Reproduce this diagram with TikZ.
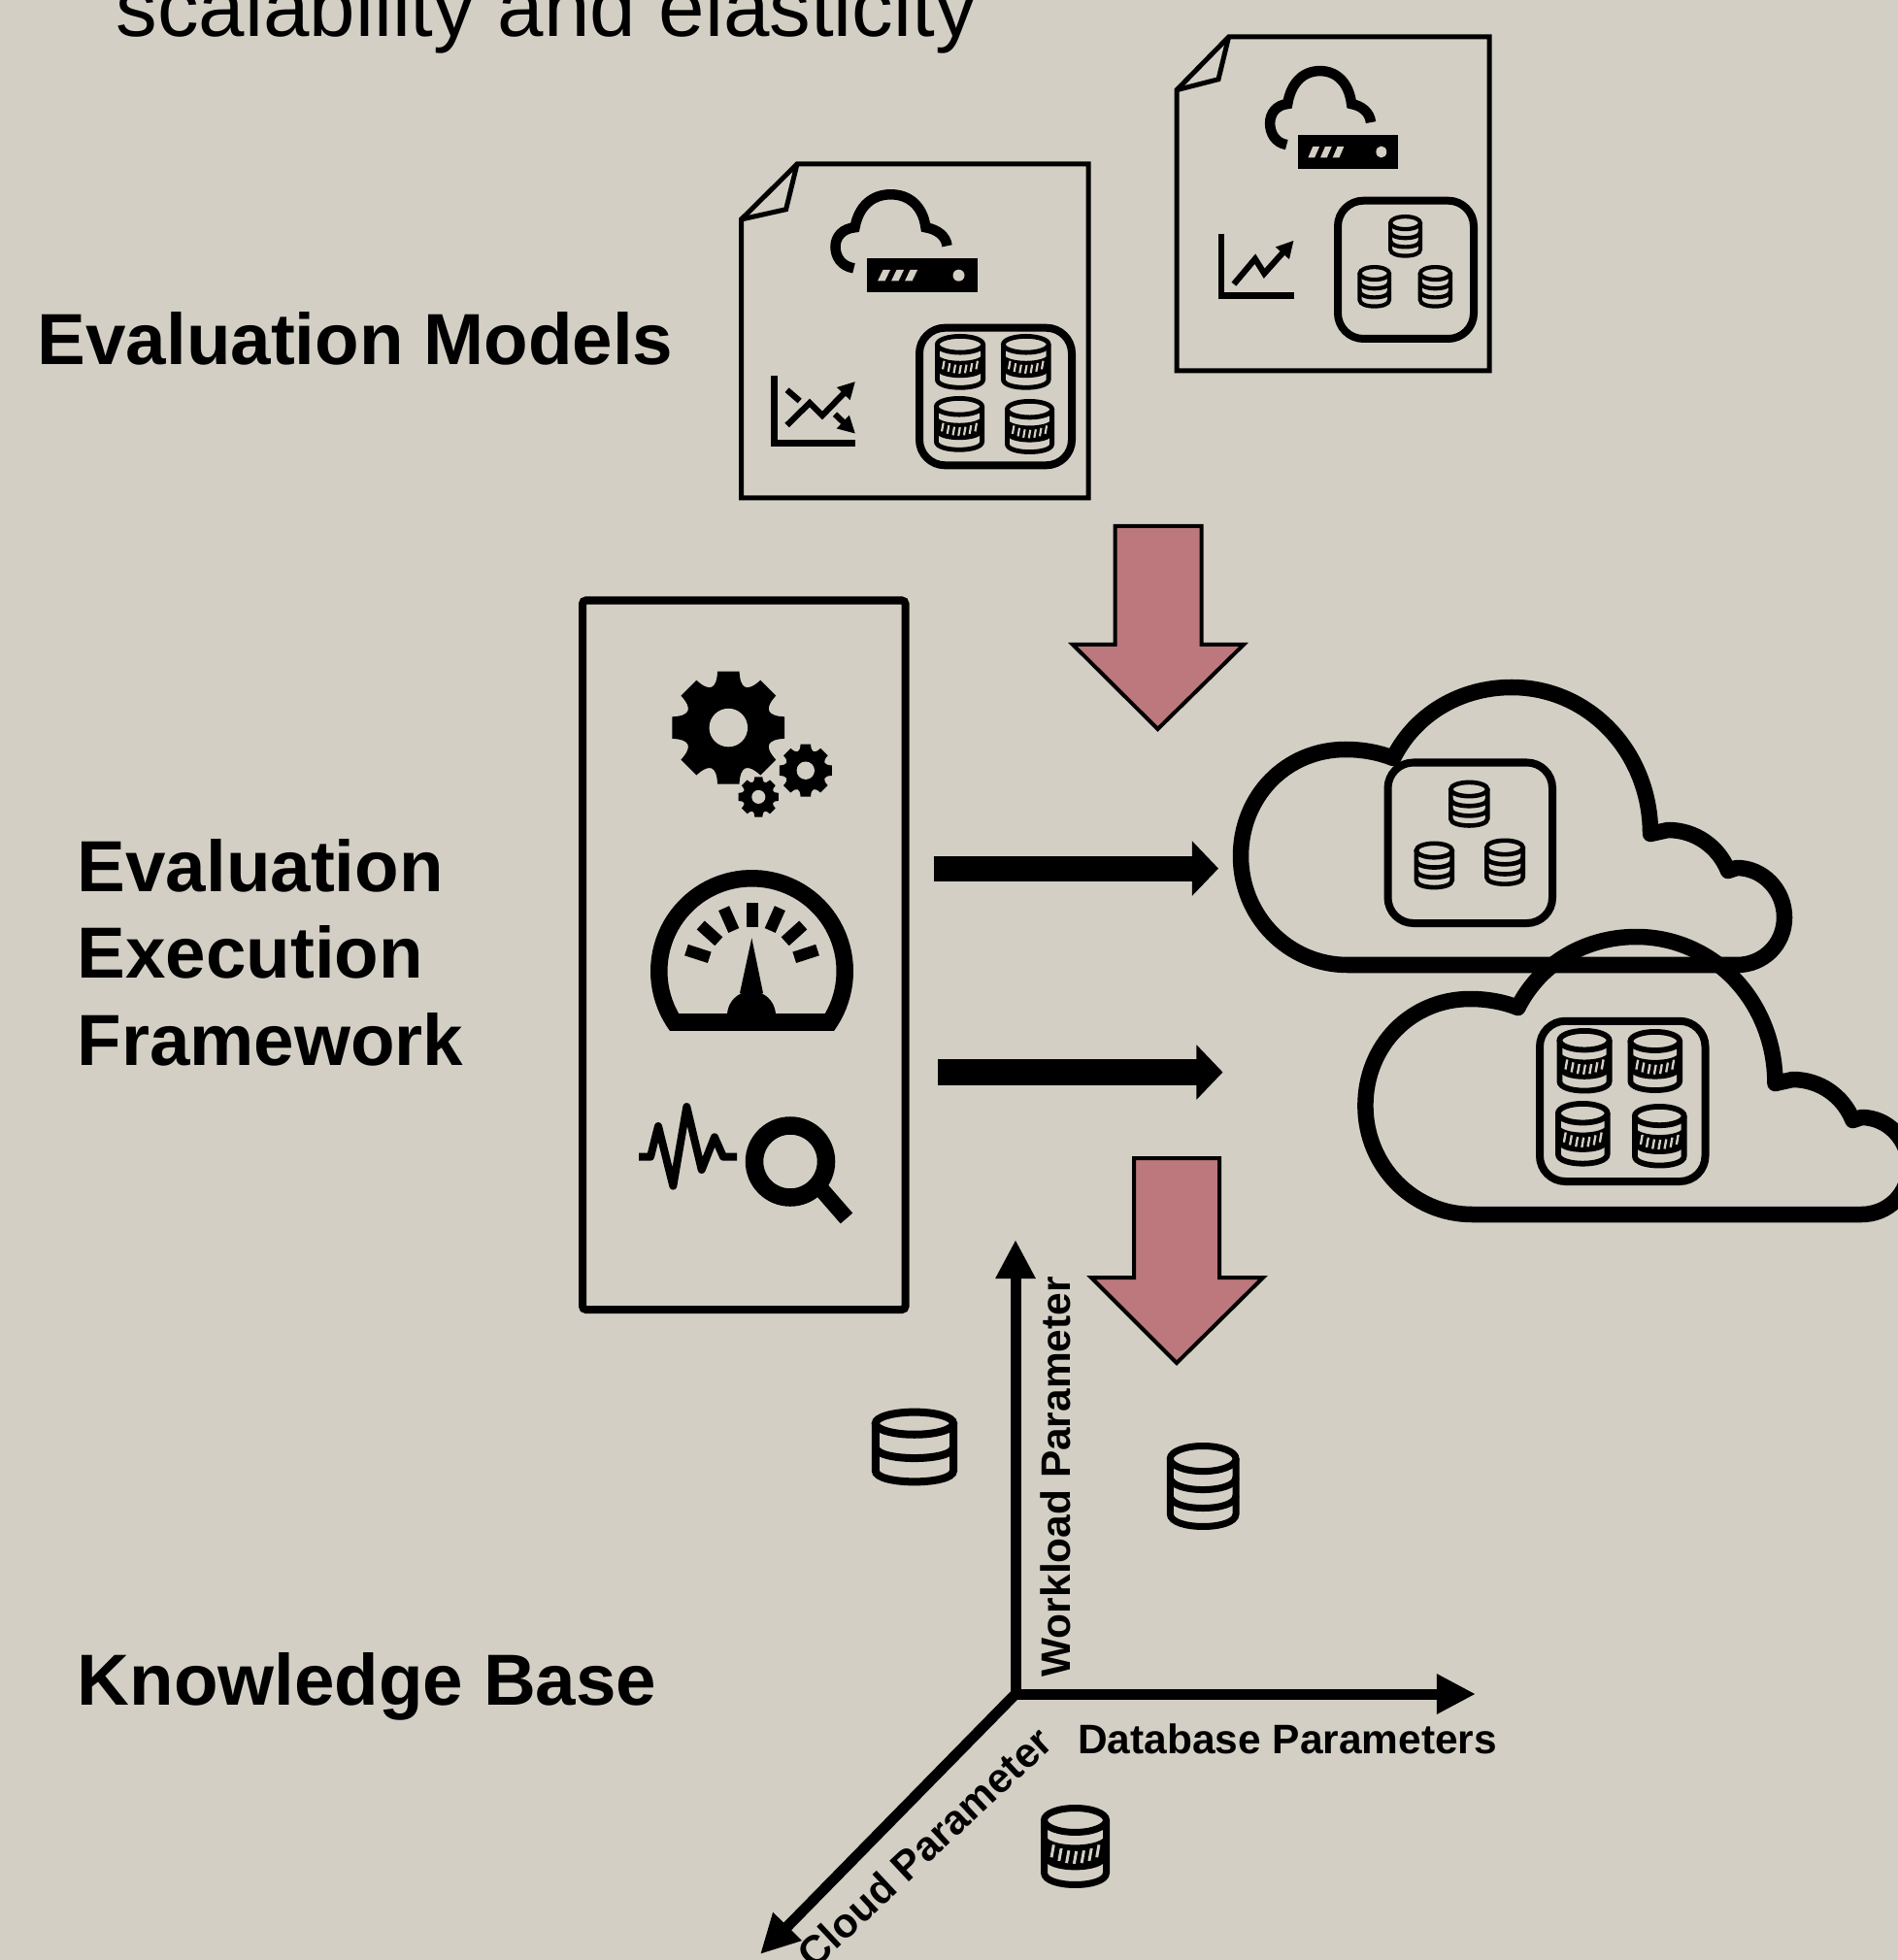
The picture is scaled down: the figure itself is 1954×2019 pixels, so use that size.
\documentclass[tikz,border=0pt]{standalone}
\usepackage{fontspec}
\setmainfont{Liberation Sans}
\usetikzlibrary{arrows.meta}
\definecolor{bgc}{RGB}{211,207,196}
\definecolor{redc}{RGB}{188,120,124}
\newcommand{\pxu}{0.28453pt}
\tikzset{
  docline/.style={draw=black,line width=5*\pxu,line join=miter},
  bigbox/.style={draw=black,line width=8*\pxu,rounded corners=7.5pt},
  cloudline/.style={draw=black,line width=16.5*\pxu,line join=round},
  redarrow/.style={draw=black,fill=redc,line width=4*\pxu,line join=miter},
  heading/.style={inner sep=0pt,font=\fontsize{21.2}{25.4}\selectfont\bfseries},
  axlabel/.style={inner sep=0pt,font=\fontsize{12.07}{14}\selectfont\bfseries},
  titletext/.style={inner sep=0pt,font=\fontsize{24.25}{28}\selectfont},
  axisline/.style={draw=black,line width=11*\pxu,line cap=round,-{Triangle[length=11.4pt,width=11pt]}},
  flowline/.style={draw=black,line width=26*\pxu,-{Triangle[length=7.7pt,width=15.6pt]}},
  chartline/.style={draw=black,line width=6.2*\pxu,line join=miter},
  charttip/.style={-{Triangle[length=5pt,width=5pt]}},
}
% x0,y0,x1,y1,dividers,lw : outer box of a plain cylinder
\newcommand{\dbcyl}[6]{%
  \pgfmathsetmacro\dbcx{(#1+#3)/2}%
  \pgfmathsetmacro\dbh{#4-#2}%
  \pgfmathsetmacro\dbrx{(#3-#1-#6)/2}%
  \pgfmathsetmacro\dbry{0.145*\dbh}%
  \pgfmathsetmacro\dbey{\dbry+#6/2}%
  \pgfmathsetmacro\dbby{\dbh-#6/2-\dbry}%
  \pgfmathsetmacro\dbsag{\dbry*1.33}%
  \begin{scope}[shift={(\dbcx,#2)},line width=#6*\pxu]
    \draw (0,\dbey) ellipse [x radius=\dbrx,y radius=\dbry];
    \draw (-\dbrx,\dbey) -- (-\dbrx,\dbby) .. controls (-\dbrx,\dbby+\dbsag) and (\dbrx,\dbby+\dbsag) .. (\dbrx,\dbby) -- (\dbrx,\dbey);
    \foreach \i in {1,...,#5}{
      \pgfmathsetmacro\dbyi{\dbey+\i*(\dbby-\dbey)/(#5+1)}
      \draw (-\dbrx,\dbyi) .. controls (-\dbrx,\dbyi+\dbsag) and (\dbrx,\dbyi+\dbsag) .. (\dbrx,\dbyi);
    }
  \end{scope}%
}
% x0,y0,x1,y1,lw : cylinder with hatched band
\newcommand{\dbhatch}[5]{%
  \pgfmathsetmacro\dbcx{(#1+#3)/2}%
  \pgfmathsetmacro\dbh{#4-#2}%
  \pgfmathsetmacro\dbrx{(#3-#1-#5)/2}%
  \pgfmathsetmacro\dbry{0.145*\dbh}%
  \pgfmathsetmacro\dbey{\dbry+#5/2}%
  \pgfmathsetmacro\dbby{\dbh-#5/2-\dbry}%
  \pgfmathsetmacro\dbsag{\dbry*1.33}%
  \pgfmathsetmacro\dbya{\dbey+0.24*(\dbby-\dbey)}%
  \pgfmathsetmacro\dbyb{\dbey+0.72*(\dbby-\dbey)}%
  \pgfmathsetmacro\dbym{(\dbya+\dbyb)/2}%
  \pgfmathsetmacro\dbpitch{2*\dbrx*0.85/7}%
  \pgfmathsetmacro\dbslit{0.38*\dbpitch}%
  \pgfmathsetmacro\dbhs{0.075*\dbh}%
  \begin{scope}[shift={(\dbcx,#2)},line width=#5*\pxu]
    \draw (0,\dbey) ellipse [x radius=\dbrx,y radius=\dbry];
    \draw (-\dbrx,\dbey) -- (-\dbrx,\dbby) .. controls (-\dbrx,\dbby+\dbsag) and (\dbrx,\dbby+\dbsag) .. (\dbrx,\dbby) -- (\dbrx,\dbey);
    \fill (-\dbrx,\dbya) .. controls (-\dbrx,\dbya+\dbsag) and (\dbrx,\dbya+\dbsag) .. (\dbrx,\dbya) -- (\dbrx,\dbyb) .. controls (\dbrx,\dbyb+\dbsag) and (-\dbrx,\dbyb+\dbsag) .. (-\dbrx,\dbyb) -- cycle;
    \foreach \i in {-3,...,3}{
      \pgfmathsetmacro\dbxi{\i*\dbpitch}
      \pgfmathsetmacro\dbyc{\dbym+\dbry*(1-(\dbxi/\dbrx)^2)}
      \draw[bgc,line width=\dbslit*\pxu] (\dbxi+0.18*\dbhs,\dbyc-\dbhs) -- (\dbxi-0.18*\dbhs,\dbyc+\dbhs);
    }
  \end{scope}%
}
% x-shift,y-shift,x-scale : cloud above a server
\newcommand{\cloudserver}[3]{%
  \begin{scope}[shift={(#1,#2)},xscale=#3]
    \draw[line width=10.5*\pxu] (-13,10.3) .. controls (-26,8.3) and (-32,-1.7) .. (-32,-11.7) .. controls (-32,-22.7) and (-24,-30.7) .. (-12,-31.7) .. controls (-8,-53.7) and (6,-65.7) .. (25,-65.7) .. controls (44,-65.7) and (58,-53.7) .. (61,-31.7) .. controls (73,-29.7) and (82,-22.7) .. (83,-12.7);
    \fill (0,0) rectangle (114,35.5);
    \fill[bgc] (17,12) -- (24.5,12) -- (19,23.5) -- (11.5,23.5) -- cycle;
    \fill[bgc] (31,12) -- (38.5,12) -- (33,23.5) -- (25.5,23.5) -- cycle;
    \fill[bgc] (45,12) -- (52.5,12) -- (47,23.5) -- (39.5,23.5) -- cycle;
    \fill[bgc] (95,17.7) ellipse [x radius=6,y radius=6];
  \end{scope}%
}
% cx,cy,outer radius
\newcommand{\gearicon}[3]{%
  \pgfmathsetmacro\gri{#3*0.70}%
  \begin{scope}[shift={(#1,#2)}]
    \fill (-11:#3) \foreach \a in {0,45,...,315}{ -- (\a-11:#3) -- (\a+11:#3) .. controls (\a+17:\gri) and (\a+28:\gri) .. (\a+34:#3) } -- cycle;
    \fill[bgc] (0,0) circle [radius=#3*0.335];
  \end{scope}%
}
\begin{document}
\begin{tikzpicture}[x=0.01cm,y=-0.01cm]
\useasboundingbox (0,0) rectangle (1954,2019);
\fill[bgc] (-6,-6) rectangle (1960,2025);
\clip (-3,-3) rectangle (1957,2022);

% texts
\node[titletext,anchor=base west] (title) at (119,37.5) {scalability and elasticity};
\node[heading,anchor=base west] (evalmodels) at (38,376) {Evaluation Models};
\node[heading,anchor=base west,align=left] (evalexec) at (79,1097) {Evaluation\\Execution\\Framework};
\node[heading,anchor=base west] (kb) at (79,1756) {Knowledge Base};

% document 2
\path[docline] (1265.6,38) -- (1534,38) -- (1534,382) -- (1212,382) -- (1212,92.7) -- cycle;
\path[docline] (1265.6,38) -- (1255,81.7) -- (1212,92.7);
\cloudserver{1337}{138.8}{0.903}
\draw[line width=6.5*\pxu] (1258,240.7) -- (1258,304.7) -- (1333,304.7);
\draw[chartline,charttip] (1270.9,292.7) -- (1292.8,266.7) -- (1302.2,281.7) -- (1332.6,247.7);
\path[bigbox] (1378,206.7) rectangle (1518,349);
\dbcyl{1430}{221}{1465}{265.7}{2}{4.2}
\dbcyl{1398.4}{273}{1433}{317.7}{2}{4.2}
\dbcyl{1460.7}{273}{1496}{317.7}{2}{4.2}

% document 1
\path[docline] (821,169) -- (1121,169) -- (1121,513) -- (763.5,513) -- (763.5,226) -- cycle;
\path[docline] (821,169) -- (809.6,215.7) -- (763.5,226);
\cloudserver{892.5}{266}{1}
\draw[line width=7*\pxu] (797.8,386.7) -- (797.8,457) -- (881,457);
\draw[chartline,charttip] (810.6,438) -- (834,415) -- (847,428) -- (881,393);
\draw[chartline] (810.6,401.7) -- (823.7,413);
\draw[chartline,charttip] (860,426.7) -- (881,446.7);
\path[bigbox] (947,337.7) rectangle (1104,479.3);
\dbhatch{963}{344}{1015}{401.7}{4.8}
\dbhatch{1031}{344}{1082.5}{401.7}{4.8}
\dbhatch{962}{408}{1014}{465.7}{4.8}
\dbhatch{1035}{411}{1086}{468}{4.8}

% red arrows
\path[redarrow] (1148.5,542) -- (1237.5,542) -- (1237.5,664) -- (1281,664) -- (1192.5,751) -- (1105,664) -- (1148.5,664) -- cycle;
\path[redarrow] (1168,1193) -- (1256,1193) -- (1256,1316) -- (1301,1316) -- (1212,1404) -- (1124,1316) -- (1168,1316) -- cycle;

% framework box
\draw[draw=black,line width=8*\pxu,rounded corners=1pt] (600,618.5) rectangle (932.5,1349);
\gearicon{750.3}{749.6}{59}
\gearicon{829.8}{793.7}{27.5}
\gearicon{781.3}{820.9}{21}
% gauge
\fill[even odd rule] plot[domain=-216:36,samples=70] ({774.5+104.5*cos(\x)},{1000.5+104.5*sin(\x)}) -- cycle
  plot[domain=-210:30,samples=70] ({774.5+87*cos(\x)},{1000.5+87*sin(\x)}) -- cycle;
\foreach \a in {-162,-138,-114,-90,-66,-42,-18}{
  \draw[line width=12*\pxu] ({774.5+46*cos(\a)},{1000.5+46*sin(\a)}) -- ({774.5+71*cos(\a)},{1000.5+71*sin(\a)});
}
\fill (774.3,966.3) -- (786,1023) -- (762,1023) -- cycle;
\fill plot[domain=-180:0,samples=30] ({774+25*cos(\x)},{1046+25*sin(\x)}) -- cycle;
% pulse and magnifier
\draw[line width=8*\pxu,line join=round] (658,1191.7) -- (670,1191.7) -- (678,1160) -- (693.3,1221.7) -- (707.3,1140) -- (722.7,1205) -- (736,1171.3) -- (745,1191.7) -- (759,1191.7);
\draw[line width=18.5*\pxu] (814,1196.5) circle [radius=37];
\draw[line width=16.5*\pxu] (845,1224) -- (872,1255);

% flow arrows
\coordinate (fa1s) at (961.5,894.6);
\coordinate (fa1e) at (1255,894.6);
\coordinate (fa2s) at (965.5,1104.5);
\coordinate (fa2e) at (1259.5,1104.5);
\draw[flowline] (fa1s) -- (fa1e);
\draw[flowline] (fa2s) -- (fa2e);

% clouds
\path[cloudline] (1388,994) -- (1789,994) .. controls (1816,994) and (1838,973) .. (1838,945) .. controls (1838,917) and (1816,894) .. (1789,894) -- (1780,897) .. controls (1770,872) and (1746,855) .. (1718,855) -- (1700,859) .. controls (1700,775) and (1637,708) .. (1557,708) .. controls (1505,708) and (1458,735) .. (1435,781) .. controls (1420,775) and (1403,772) .. (1386,772) .. controls (1325,772) and (1278,820) .. (1278,882) .. controls (1278,944) and (1327,994) .. (1388,994) -- cycle;
\begin{scope}[shift={(128.4,257)}]
\path[cloudline] (1388,994) -- (1789,994) .. controls (1816,994) and (1838,973) .. (1838,945) .. controls (1838,917) and (1816,894) .. (1789,894) -- (1780,897) .. controls (1770,872) and (1746,855) .. (1718,855) -- (1700,859) .. controls (1700,775) and (1637,708) .. (1557,708) .. controls (1505,708) and (1458,735) .. (1435,781) .. controls (1420,775) and (1403,772) .. (1386,772) .. controls (1325,772) and (1278,820) .. (1278,882) .. controls (1278,944) and (1327,994) .. (1388,994) -- cycle;
\end{scope}
\path[bigbox] (1429.5,785.5) rectangle (1599,951);
\dbcyl{1492}{803.6}{1534.5}{852.8}{2}{4.6}
\dbcyl{1456.5}{866.5}{1498}{916.4}{2}{4.6}
\dbcyl{1529}{863.5}{1571}{913}{2}{4.6}
\path[bigbox] (1586,1051.8) rectangle (1756.5,1217);
\dbhatch{1603.5}{1059}{1660.5}{1126.5}{5.8}
\dbhatch{1676.5}{1060}{1733}{1126}{5.8}
\dbhatch{1602}{1134}{1658.5}{1201.6}{5.8}
\dbhatch{1681}{1137}{1737.5}{1203.5}{5.8}

% knowledge base axes
\coordinate (axo) at (1046,1745);
\coordinate (axw) at (1046,1277);
\coordinate (axd) at (1520,1745);
\coordinate (axc) at (783,2013);
\draw[axisline] (axo) -- (axw);
\draw[axisline] (axo) -- (axd);
\draw[axisline] (axo) -- (axc);
\node[axlabel,anchor=base west,rotate=90] (lblw) at (1102,1728) {Workload Parameter};
\node[axlabel,anchor=base west] (lbld) at (1109.5,1806) {Database Parameters};
\node[axlabel,anchor=base east,rotate=43] (lblc) at (1087,1798) {Cloud Parameter};
\dbcyl{897.8}{1450.6}{986}{1530.4}{1}{8}
\dbcyl{1201.8}{1486}{1276.5}{1576}{2}{7}
\dbhatch{1072}{1859}{1143}{1945}{7}
\end{tikzpicture}
\end{document}
